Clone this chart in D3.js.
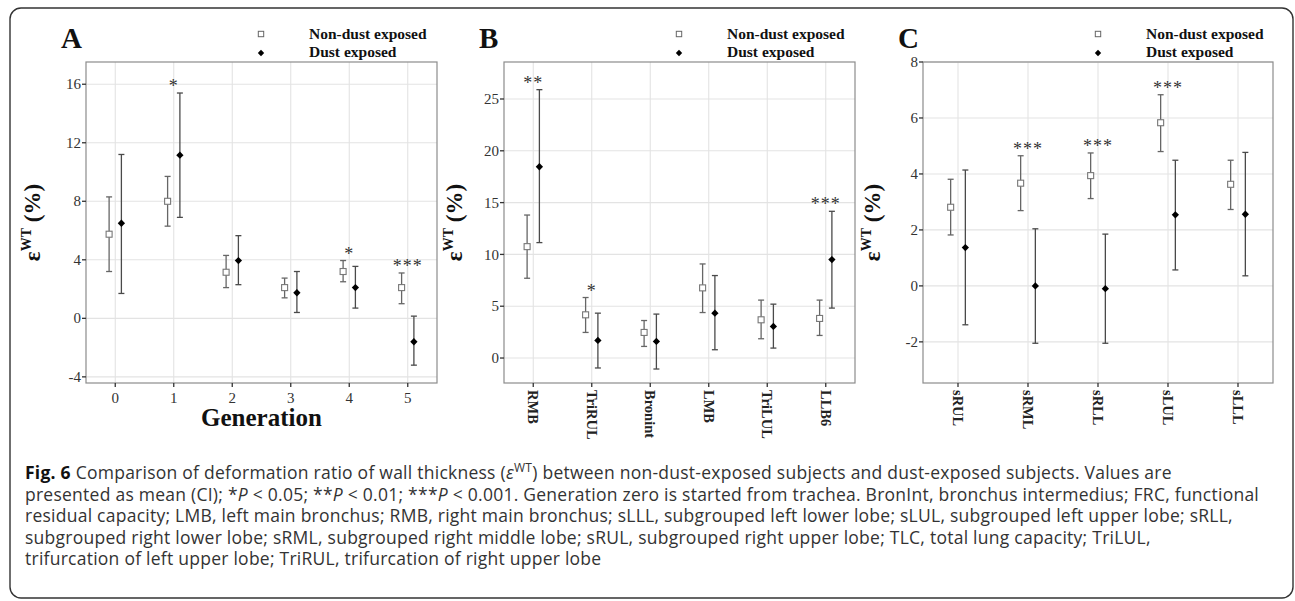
<!DOCTYPE html>
<html>
<head>
<meta charset="utf-8">
<script src="https://cdn.jsdelivr.net/npm/d3@7"></script>
<style>
  body { margin: 0; background: #fff; }
  svg { display: block; }
</style>
</head>
<body>
<div id="fig"></div>
<script>
// Panel A : generation
const genCats = ["0", "1", "2", "3", "4", "5"];
const genNonMean = [5.75, 8.0, 3.15, 2.1, 3.2, 2.1];
const genNonLow = [3.2, 6.3, 2.1, 1.4, 2.5, 1.0];
const genNonHigh = [8.3, 9.7, 4.3, 2.75, 3.95, 3.1];
const genDustMean = [6.5, 11.15, 3.95, 1.75, 2.1, -1.6];
const genDustLow = [1.7, 6.9, 2.3, 0.4, 0.7, -3.2];
const genDustHigh = [11.2, 15.4, 5.65, 3.2, 3.55, 0.15];
const genSig = ["", "*", "", "", "*", "***"];
const genTicks = [-4, 0, 4, 8, 12, 16];

// Panel B : airway branches
const brCats = ["RMB", "TriRUL", "Bronint", "LMB", "TriLUL", "LLB6"];
const brNonMean = [10.75, 4.17, 2.47, 6.77, 3.69, 3.82];
const brNonLow = [7.7, 2.47, 1.12, 4.39, 1.86, 2.18];
const brNonHigh = [13.8, 5.84, 3.62, 9.08, 5.59, 5.59];
const brDustMean = [18.46, 1.7, 1.6, 4.33, 3.05, 9.5];
const brDustLow = [11.14, -0.96, -1.06, 0.8, 0.96, 4.82];
const brDustHigh = [25.9, 4.33, 4.24, 7.96, 5.2, 14.16];
const brSig = ["**", "*", "", "", "", "***"];
const brTicks = [0, 5, 10, 15, 20, 25];

// Panel C : lobes
const lobeCats = ["sRUL", "sRML", "sRLL", "sLUL", "sLLL"];
const lobeNonMean = [2.81, 3.67, 3.94, 5.83, 3.63];
const lobeNonLow = [1.82, 2.69, 3.12, 4.8, 2.73];
const lobeNonHigh = [3.81, 4.65, 4.75, 6.83, 4.49];
const lobeDustMean = [1.37, 0.0, -0.1, 2.54, 2.56];
const lobeDustLow = [-1.39, -2.05, -2.05, 0.57, 0.36];
const lobeDustHigh = [4.14, 2.04, 1.85, 4.49, 4.77];
const lobeSig = ["", "***", "***", "***", ""];
const lobeTicks = [-2, 0, 2, 4, 6, 8];

const legendNames = ["Non-dust exposed", "Dust exposed"];

const W = 1295, H = 601;
const serif = "'Liberation Serif', 'Times New Roman', serif";
const sans = "'Open Sans', 'Noto Sans', sans-serif";

const svg = d3.select("#fig").append("svg")
  .attr("width", W)
  .attr("height", H);

// cadre arrondi
svg.append("rect")
  .attr("x", 10).attr("y", 8)
  .attr("width", 1283).attr("height", 590)
  .attr("rx", 11)
  .attr("fill", "none")
  .attr("stroke", "#333")
  .attr("stroke-width", 1.4);

const panels = [
  { letter: "A", left: 86, right: 437, yDomain: [-4.42, 17.52], cats: genCats,
    non: [genNonMean, genNonLow, genNonHigh], dust: [genDustMean, genDustLow, genDustHigh],
    sig: genSig, ticks: genTicks, rotated: false, titleOff: 46 },
  { letter: "B", left: 504, right: 855, yDomain: [-2.41, 28.57], cats: brCats,
    non: [brNonMean, brNonLow, brNonHigh], dust: [brDustMean, brDustLow, brDustHigh],
    sig: brSig, ticks: brTicks, rotated: true, titleOff: 42 },
  { letter: "C", left: 923, right: 1273, yDomain: [-3.47, 8], cats: lobeCats,
    non: [lobeNonMean, lobeNonLow, lobeNonHigh], dust: [lobeDustMean, lobeDustLow, lobeDustHigh],
    sig: lobeSig, ticks: lobeTicks, rotated: true, titleOff: 43 }
];

const plotTop = 62, plotBottom = 383;

function drawPanel(p) {
  const g = svg.append("g");

  const x = d3.scaleBand().domain(p.cats).range([p.left, p.right]).padding(0);
  const y = d3.scaleLinear().domain(p.yDomain).range([plotBottom, plotTop]);
  const cx = c => x(c) + x.bandwidth() / 2;
  const dodge = x.bandwidth() * 0.105;

  // grille
  g.selectAll("line.hgrid").data(p.ticks).enter().append("line")
    .attr("x1", p.left).attr("x2", p.right)
    .attr("y1", d => y(d)).attr("y2", d => y(d))
    .attr("stroke", "#e3e3e3").attr("stroke-width", 1.1);
  g.selectAll("line.vgrid").data(p.cats).enter().append("line")
    .attr("x1", d => cx(d)).attr("x2", d => cx(d))
    .attr("y1", plotTop).attr("y2", plotBottom)
    .attr("stroke", "#e3e3e3").attr("stroke-width", 1.1);

  // bordure du panneau
  g.append("rect")
    .attr("x", p.left).attr("y", plotTop)
    .attr("width", p.right - p.left).attr("height", plotBottom - plotTop)
    .attr("fill", "none").attr("stroke", "#8c8c8c").attr("stroke-width", 1.2);

  // axe y
  g.selectAll("line.ytick").data(p.ticks).enter().append("line")
    .attr("x1", p.left - 4).attr("x2", p.left)
    .attr("y1", d => y(d)).attr("y2", d => y(d))
    .attr("stroke", "#333").attr("stroke-width", 1.3);
  g.selectAll("text.ylab").data(p.ticks).enter().append("text")
    .attr("x", p.left - 5)
    .attr("y", d => y(d))
    .attr("dy", "0.34em")
    .attr("text-anchor", "end")
    .attr("font-family", serif).attr("font-size", 15).attr("fill", "#333")
    .text(d => d);

  // axe x
  g.selectAll("line.xtick").data(p.cats).enter().append("line")
    .attr("x1", d => cx(d)).attr("x2", d => cx(d))
    .attr("y1", plotBottom).attr("y2", plotBottom + 4)
    .attr("stroke", "#333").attr("stroke-width", 1.3);
  if (p.rotated) {
    g.selectAll("text.xlab").data(p.cats).enter().append("text")
      .attr("transform", d => "translate(" + cx(d) + "," + (plotBottom + 7) + ") rotate(90)")
      .attr("dy", "0.33em")
      .attr("font-family", serif).attr("font-size", 14.5).attr("font-weight", "bold").attr("fill", "#222")
      .text(d => d);
  } else {
    g.selectAll("text.xlab").data(p.cats).enter().append("text")
      .attr("x", d => cx(d)).attr("y", plotBottom + 20)
      .attr("text-anchor", "middle")
      .attr("font-family", serif).attr("font-size", 15).attr("fill", "#333")
      .text(d => d);
    g.append("text")
      .attr("x", (p.left + p.right) / 2).attr("y", 426)
      .attr("text-anchor", "middle")
      .attr("font-family", serif).attr("font-size", 25).attr("font-weight", "bold").attr("fill", "#111")
      .text("Generation");
  }

  // titre y
  const yt = g.append("text")
    .attr("transform", "translate(" + (p.left - p.titleOff) + "," + ((plotTop + plotBottom) / 2) + ") rotate(-90)")
    .attr("text-anchor", "middle")
    .attr("font-family", serif).attr("font-weight", "bold").attr("fill", "#111");
  yt.append("tspan").attr("font-size", 23).text("\u03b5");
  yt.append("tspan").attr("font-size", 14).attr("dy", -9).text("WT");
  yt.append("tspan").attr("font-size", 23).attr("dy", 9).text(" (%)");

  // lettre du panneau
  g.append("text")
    .attr("x", p.left - 25).attr("y", 48)
    .attr("font-family", serif).attr("font-size", 29).attr("font-weight", "bold").attr("fill", "#111")
    .text(p.letter);

  // légende
  const legX = p.left + 175, legTxt = p.left + 223;
  g.append("rect")
    .attr("x", legX - 2.7).attr("y", 34 - 2.7).attr("width", 5.4).attr("height", 5.4)
    .attr("fill", "#fff").attr("stroke", "#666").attr("stroke-width", 1);
  g.append("path")
    .attr("d", d3.symbol(d3.symbolDiamond2, 26)())
    .attr("transform", "translate(" + legX + ",53)")
    .attr("fill", "#000");
  g.selectAll("text.leg").data(legendNames).enter().append("text")
    .attr("x", legTxt).attr("y", (d, i) => 38.5 + i * 18.5)
    .attr("font-family", serif).attr("font-size", 15.5).attr("font-weight", "bold").attr("fill", "#111")
    .text(d => d);

  // barres d'erreur + points
  const groups = [
    { vals: p.non, off: -dodge, color: "#666" },
    { vals: p.dust, off: dodge, color: "#4a4a4a" }
  ];
  groups.forEach(function (s, k) {
    const rows = p.cats.map((c, i) => ({ c: c, m: s.vals[0][i], lo: s.vals[1][i], hi: s.vals[2][i] }));
    const eb = g.append("g");
    eb.selectAll("line.v").data(rows).enter().append("line")
      .attr("x1", d => cx(d.c) + s.off).attr("x2", d => cx(d.c) + s.off)
      .attr("y1", d => y(d.lo)).attr("y2", d => y(d.hi))
      .attr("stroke", s.color).attr("stroke-width", 1.3);
    ["lo", "hi"].forEach(function (key) {
      eb.selectAll("line." + key).data(rows).enter().append("line")
        .attr("x1", d => cx(d.c) + s.off - 3).attr("x2", d => cx(d.c) + s.off + 3)
        .attr("y1", d => y(d[key])).attr("y2", d => y(d[key]))
        .attr("stroke", s.color).attr("stroke-width", 1.3);
    });
    if (k === 0) {
      eb.selectAll("rect.pt").data(rows).enter().append("rect")
        .attr("x", d => cx(d.c) + s.off - 3).attr("y", d => y(d.m) - 3)
        .attr("width", 6).attr("height", 6)
        .attr("fill", "#fff").attr("stroke", "#777").attr("stroke-width", 1.1);
    } else {
      eb.selectAll("path.pt").data(rows).enter().append("path")
        .attr("d", d3.symbol(d3.symbolDiamond2, 34)())
        .attr("transform", d => "translate(" + (cx(d.c) + s.off) + "," + y(d.m) + ")")
        .attr("fill", "#000");
    }
  });

  // étoiles de significativité
  const starRows = p.cats.map((c, i) => ({ c: c, s: p.sig[i], hi: Math.max(p.non[2][i], p.dust[2][i]) }))
    .filter(d => d.s !== "");
  g.selectAll("text.sig").data(starRows).enter().append("text")
    .attr("x", d => cx(d.c)).attr("y", d => y(d.hi) - 1)
    .attr("text-anchor", "middle")
    .attr("font-family", serif).attr("font-size", 18).attr("fill", "#333")
    .attr("letter-spacing", 1)
    .text(d => d.s);
}

panels.forEach(drawPanel);

// légende de la figure
const capLines = [
  [["b", "Fig. 6"], ["", " Comparison of deformation ratio of wall thickness ("], ["i", "\u03b5"], ["sup", "WT"],
   ["", ") between non-dust-exposed subjects and dust-exposed subjects. Values are"]],
  [["", "presented as mean (CI); *"], ["i", "P"], ["", " < 0.05; **"], ["i", "P"], ["", " < 0.01; ***"], ["i", "P"],
   ["", " < 0.001. Generation zero is started from trachea. BronInt, bronchus intermedius; FRC, functional"]],
  [["", "residual capacity; LMB, left main bronchus; RMB, right main bronchus; sLLL, subgrouped left lower lobe; sLUL, subgrouped left upper lobe; sRLL,"]],
  [["", "subgrouped right lower lobe; sRML, subgrouped right middle lobe; sRUL, subgrouped right upper lobe; TLC, total lung capacity; TriLUL,"]],
  [["", "trifurcation of left upper lobe; TriRUL, trifurcation of right upper lobe"]]
];

const cap = svg.append("g")
  .attr("font-family", sans).attr("font-size", 17.5).attr("fill", "#333")
  .attr("letter-spacing", 0.25);
capLines.forEach(function (line, i) {
  const t = cap.append("text").attr("x", 25).attr("y", 479 + i * 21.5);
  let raised = false;
  line.forEach(function (part) {
    const ts = t.append("tspan").text(part[1]);
    if (part[0] === "b") ts.attr("font-weight", "bold").attr("fill", "#111");
    if (part[0] === "i") ts.attr("font-style", "italic");
    if (part[0] === "sup") { ts.attr("font-size", 12).attr("dy", -7); raised = true; }
    else if (raised) { ts.attr("dy", 7); raised = false; }
  });
});
</script>
</body>
</html>
